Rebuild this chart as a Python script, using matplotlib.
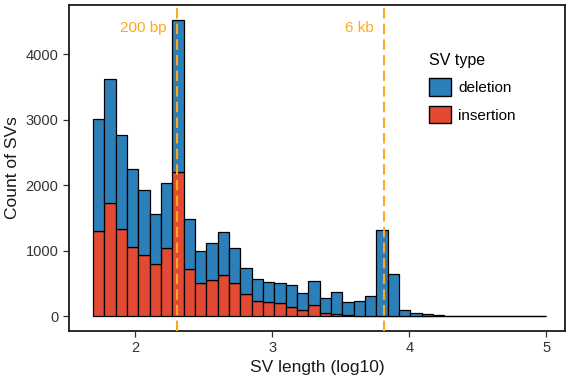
import numpy as np
import matplotlib
matplotlib.use("Agg")
import matplotlib.pyplot as plt
from matplotlib.patches import Patch

plt.rcParams['font.family'] = ['Liberation Sans', 'DejaVu Sans']

# histogram of SV lengths (log10 bp), 40 bins
bin_start = 1.69
bin_end = 5.0
n_bins = 40

total = [3011, 3629, 2773, 2245, 1921, 1561, 2032, 4527, 1491, 998,
         1125, 1293, 1034, 735, 567, 526, 514, 471, 354, 542,
         274, 374, 218, 228, 309, 1317, 643, 96, 46, 40,
         15, 8, 6, 5, 4, 4, 3, 3, 3, 2]
insertion = [1302, 1728, 1338, 1059, 932, 795, 1039, 2199, 719, 511,
             552, 628, 502, 335, 237, 213, 202, 137, 91, 167,
             50, 40, 15, 6, 4, 2, 1, 0, 0, 0,
             0, 0, 0, 0, 0, 0, 0, 0, 0, 0]
deletion = [t - i for t, i in zip(total, insertion)]

cutoff_bp = [200, 6500]
cutoff_labels = ["200 bp", "6 kb"]

col_del = "#2C7FB8"
col_ins = "#E34A33"
col_line = "#FFA81E"

edges = np.linspace(bin_start, bin_end, n_bins + 1)
width = edges[1] - edges[0]

fig = plt.figure(figsize=(5.66, 3.83), dpi=100)
ax = fig.add_axes([0.1219, 0.1358, 0.8763, 0.8512])

ax.bar(edges[:-1], insertion, width=width, align='edge', color=col_ins,
       edgecolor='black', linewidth=0.9)
ax.bar(edges[:-1], deletion, bottom=insertion, width=width, align='edge',
       color=col_del, edgecolor='black', linewidth=0.9)

for bp, lab in zip(cutoff_bp, cutoff_labels):
    x = np.log10(bp)
    ax.axvline(x, color=col_line, linestyle=(0, (5, 2.5)), linewidth=1.5, zorder=3)
    ax.text(x - 0.075, 4400, lab, color=col_line, fontsize=11,
            ha='right', va='center')

ymax = max(total)
ax.set_ylim(-0.05 * ymax, 1.05 * ymax)
ax.set_xlim(1.516, 5.135)
ax.set_xticks([2, 3, 4, 5])
ax.set_yticks([0, 1000, 2000, 3000, 4000])
ax.tick_params(labelsize=10.5, colors='#333333', length=4, width=0.9)
for s in ax.spines.values():
    s.set_linewidth(1.3)
    s.set_color('#1a1a1a')

ax.set_xlabel("SV length (log10)", fontsize=12.5, color='#1a1a1a', labelpad=3)
ax.set_ylabel("Count of SVs", fontsize=12.5, color='#1a1a1a', labelpad=4)

handles = [Patch(facecolor=col_del, edgecolor='black', linewidth=1),
           Patch(facecolor=col_ins, edgecolor='black', linewidth=1)]
leg = ax.legend(handles, ["deletion", "insertion"], title="SV type",
                loc='upper left', bbox_to_anchor=(0.705, 0.885), frameon=False,
                fontsize=11, title_fontsize=11.5, handlelength=1.4,
                handleheight=1.4, handletextpad=0.5, labelspacing=0.65,
                alignment='left', borderaxespad=0.3)

fig.savefig("out.png", dpi=100)
